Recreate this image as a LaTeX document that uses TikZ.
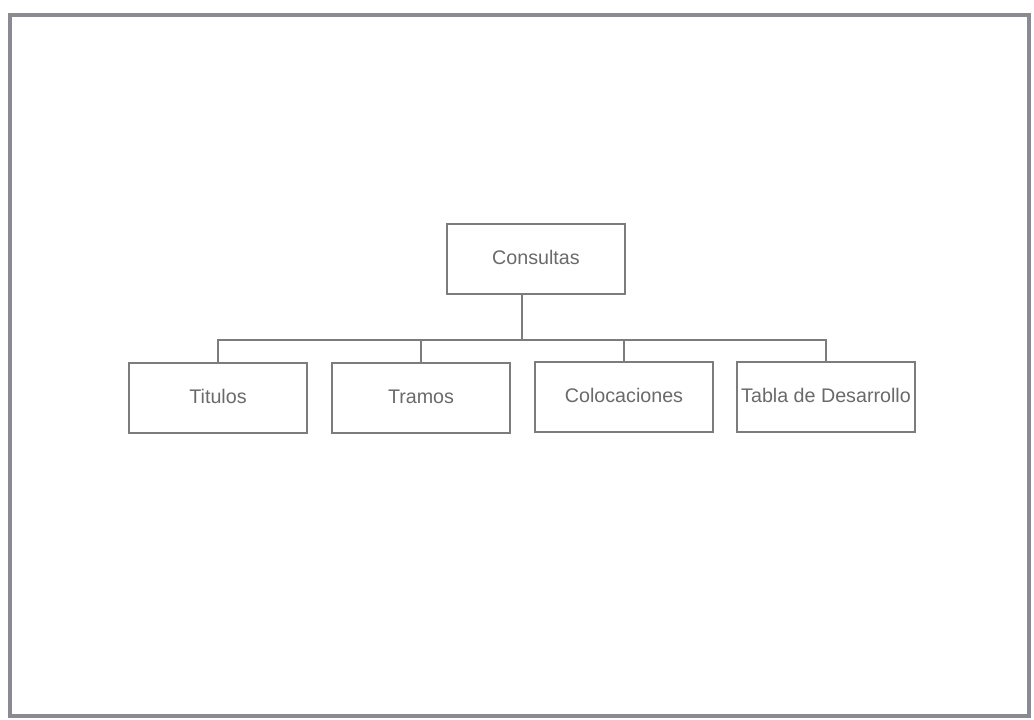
\documentclass[tikz,border=0pt]{standalone}
\usepackage{fontspec}
\setmainfont{Liberation Sans}
\definecolor{linegray}{HTML}{7C7C7C}
\definecolor{textgray}{HTML}{6A6A6A}
\definecolor{framegray}{HTML}{8A8A92}
\tikzset{
  caja/.style={draw=linegray, line width=1.3pt, fill=white, minimum width=4.43cm, minimum height=1.74cm,
    inner sep=0pt, outer sep=0pt, text=textgray, text height=0.72em, text depth=0pt,
    font=\fontsize{14}{17}\selectfont},
  rama/.style={draw=linegray, line width=1.3pt}
}
\begin{document}
\begin{tikzpicture}[x=0.025cm,y=-0.025cm]
\fill[white] (0,0) rectangle (1034,719);
\useasboundingbox (0,0) rectangle (1034,719);
\draw[framegray, line width=2.4pt] (10,15) rectangle (1029,716);

\node[caja] (cons) at (536,259) {Consultas};

\node[caja] (tit) at (218,398) {Titulos};
\node[caja] (tra) at (421,398) {Tramos};
\node[caja] (col) at (624,397) {Colocaciones};
\node[caja] (tab) at (826,397) {Tabla de Desarrollo};

\coordinate (bar) at (522,340);
\draw[rama] (cons.south -| bar) -- (bar);
\draw[rama] (tit.north) -- (tit.north |- bar) -- (tab.north |- bar) -- (tab.north);
\draw[rama] (tra.north) -- (tra.north |- bar);
\draw[rama] (col.north) -- (col.north |- bar);
\end{tikzpicture}
\end{document}
